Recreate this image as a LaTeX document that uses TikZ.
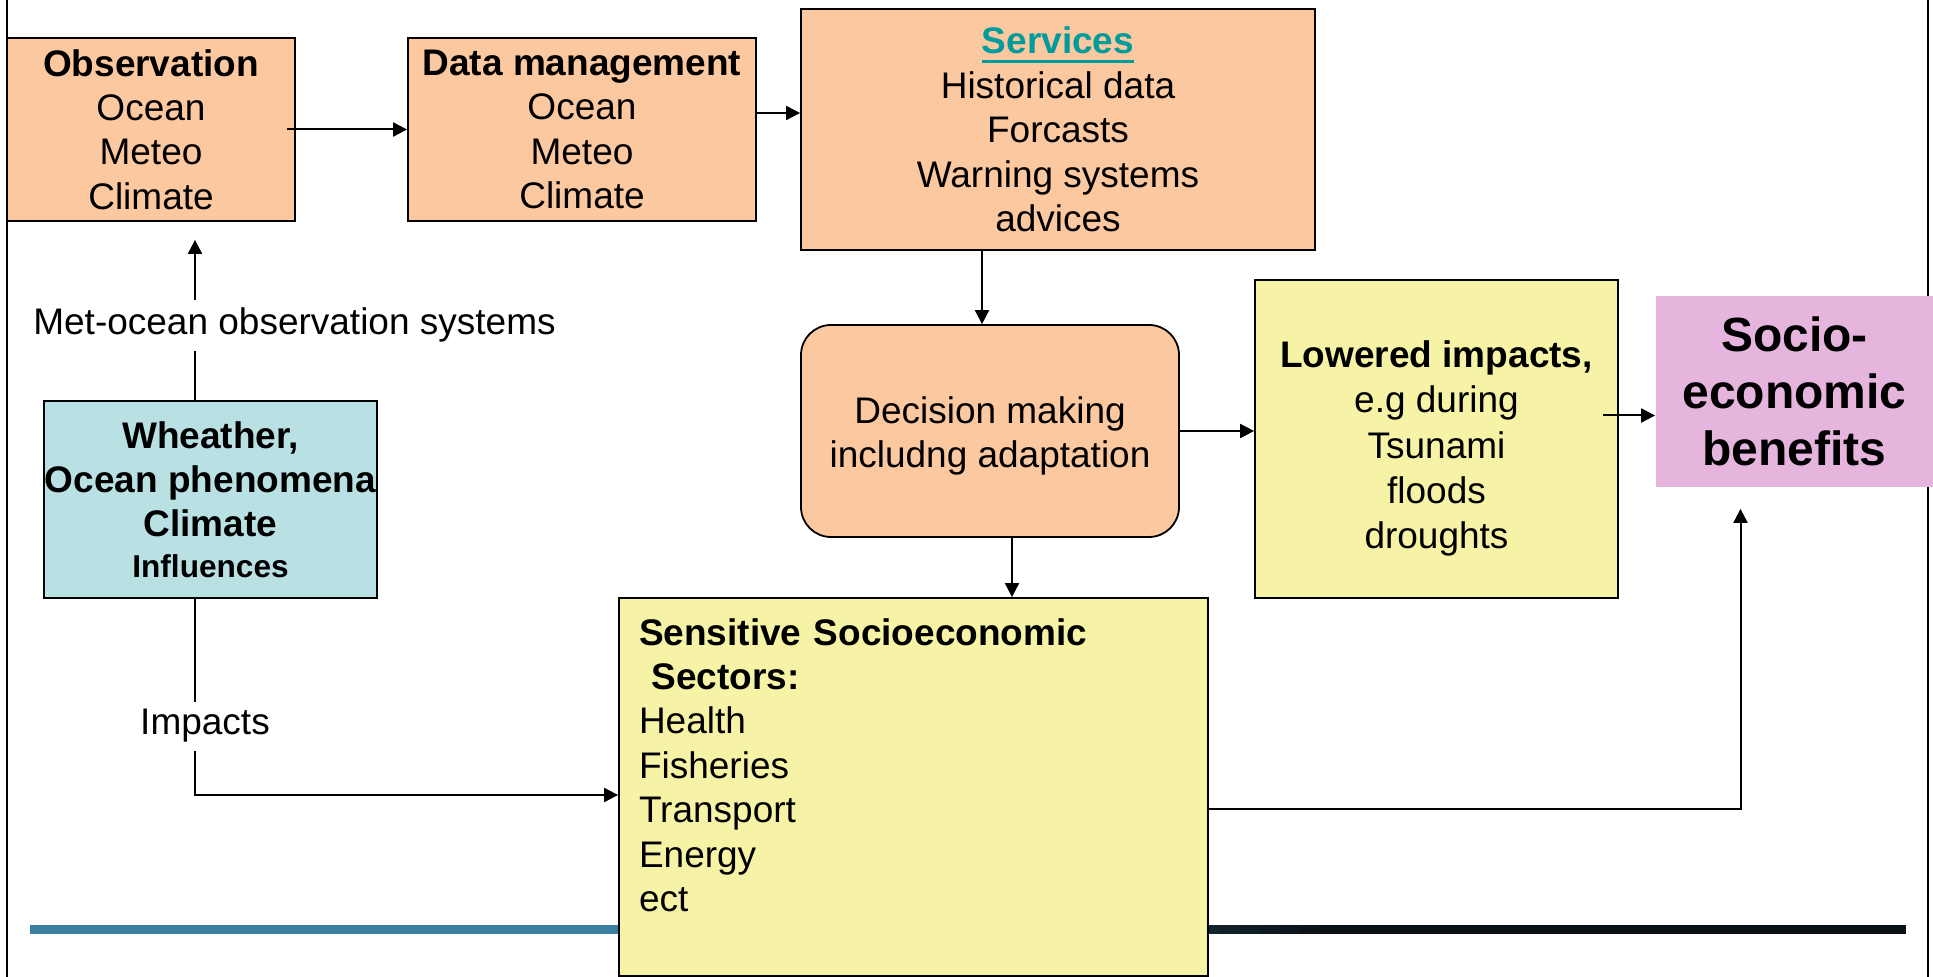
\documentclass[tikz,border=0pt]{standalone}
\usepackage{fontspec}
\setmainfont{Liberation Sans}
\usetikzlibrary{arrows.meta,calc}
\definecolor{boxorange}{RGB}{252,200,160}
\definecolor{boxcyan}{RGB}{185,224,227}
\definecolor{boxyellow}{RGB}{246,243,166}
\definecolor{boxpink}{RGB}{230,181,221}
\definecolor{svcteal}{RGB}{0,155,155}
\definecolor{barblue}{RGB}{58,126,160}
\definecolor{barblack}{RGB}{10,17,21}
\newcommand{\ulsvc}[1]{\setbox0\hbox{#1}\rlap{\vrule width\wd0 height-3pt depth4.6pt}\box0}
\tikzstyle{box}=[draw, line width=0.9pt, inner sep=0pt, align=center,
    font=\fontsize{18.5}{22.2}\selectfont]
\tikzstyle{obox}=[box, fill=boxorange]
\tikzstyle{ybox}=[box, fill=boxyellow]
\tikzstyle{lbl}=[fill=white, inner xsep=2pt, inner ysep=4pt,
    font=\fontsize{18.5}{22.2}\selectfont]
\tikzstyle{arr}=[line width=1pt, -{Triangle[length=7pt,width=7pt]}]

\begin{document}
\begin{tikzpicture}[x=0.5pt,y=-0.5pt]
  \useasboundingbox (0,0) rectangle (1933,977);
  % slide frame and bar
  \draw[line width=1.2pt] (7,0) -- (7,977);
  \draw[line width=1.2pt] (1928,0) -- (1928,977);
  \fill[barblue] (30,925) rectangle (621,934);
  \foreach \i in {0,...,35} {
    \pgfmathtruncatemacro{\p}{100-\i*100/35}
    \fill[barblue!\p!barblack] (620+\i*20,925) rectangle (641+\i*20,934);
  }
  \fill[barblack] (1340,925) rectangle (1906,934);

  \node[obox, minimum width=144pt, minimum height=91.5pt] at (151,129.5) (obs)
    {\textbf{Observation}\\Ocean\\Meteo\\Climate};
  \node[obox, minimum width=174pt, minimum height=91.5pt] at (582,129.5) (dm)
    {\textbf{Data management}\\Ocean\\Meteo\\Climate};
  \node[obox, minimum width=257pt, minimum height=120.5pt] at (1058,129.5) (serv)
    {\textcolor{svcteal}{\ulsvc{\textbf{Services}}}\\Historical data\\Forcasts\\Warning systems\\advices};
  \node[obox, rounded corners=15pt, minimum width=189pt, text height=71.25pt, text depth=34.75pt] at (990,431) (dec)
    {Decision making\\includng adaptation};
  \node[ybox, minimum width=181.5pt, text height=134.5pt, text depth=24.5pt,
    font=\fontsize{18.5}{22.7}\selectfont] at (1436.5,439) (low)
    {\textbf{Lowered impacts,}\\e.g during\\Tsunami\\floods\\droughts};
  \node[box, draw=none, fill=boxpink, minimum width=138.5pt, minimum height=95.5pt,
    font=\bfseries\fontsize{24}{28.5}\selectfont] at (1794.5,391.5) (soc)
    {Socio-\\economic\\benefits};
  \node[box, fill=boxcyan, minimum width=166.5pt, minimum height=98.5pt] at (210.5,499.5) (wea)
    {\textbf{Wheather,}\\\textbf{Ocean phenomena}\\\textbf{Climate}\\[-2pt]{\bfseries\fontsize{15.8}{19}\selectfont Influences}};
  \node[ybox, minimum width=294.5pt, minimum height=189pt, text width=274.5pt,
    inner xsep=10pt, align=left] at (913.5,787) (sens)
    {\textbf{Sensitive Socioeconomic}\\\textbf{\ Sectors:}\\Health\\Fisheries\\Transport\\Energy\\ect\\\mbox{}};

  \draw[arr] ([xshift=-4.5pt]obs.east) -- (dm.west);
  \draw[arr] ([yshift=8.25pt]dm.east) -- ([yshift=8.25pt]dm.east -| serv.west);
  \draw[arr] ([xshift=-4pt]dec.north |- serv.south) -- ([xshift=-4pt]dec.north);
  \draw[arr] ([xshift=11pt]dec.south) -- ([xshift=11pt]dec.south |- sens.north);
  \draw[arr] (dec.east) -- (dec.east -| low.west);
  \draw[arr] ([xshift=-8pt,yshift=-12pt]soc.west -| low.east) -- ([yshift=-12pt]soc.west);
  \draw[arr, shorten >=10.5pt] ([yshift=-11pt]sens.east) -| ([xshift=-27pt]soc.south);
  \draw[arr, shorten >=9pt] ([xshift=-7.75pt]wea.north) -- ([xshift=-7.75pt]wea.north |- obs.south);
  \draw[arr] ([xshift=-7.75pt]wea.south) |- ([yshift=-4pt]sens.west);

  \node[lbl, anchor=base] at (294.5,335) (mos) {Met-ocean observation systems};
  \node[lbl, anchor=base] at (205,735) (imp) {Impacts};
\end{tikzpicture}
\end{document}
